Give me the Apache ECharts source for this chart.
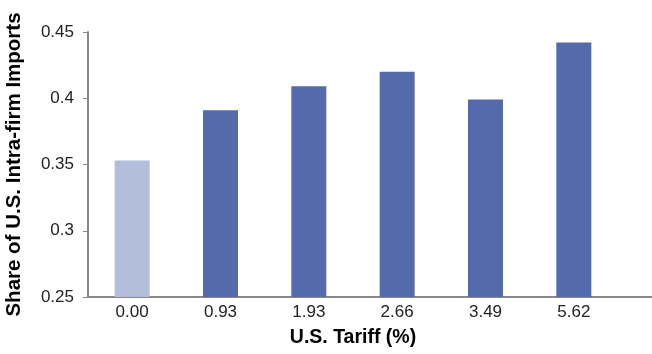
<!DOCTYPE html>
<html>
<head>
<meta charset="utf-8">
<script src="https://cdn.jsdelivr.net/npm/echarts@6/dist/echarts.min.js"></script>
<style>
  html, body { margin: 0; padding: 0; background: #fff; }
  #chart { width: 652px; height: 354px; }
</style>
</head>
<body>
<div id="chart"></div>
<script>
const tariffs = ['0.00', '0.93', '1.93', '2.66', '3.49', '5.62'];
const shares = [0.353, 0.391, 0.409, 0.420, 0.399, 0.442];
const yTicks = [0.25, 0.3, 0.35, 0.4, 0.45];

const chart = echarts.init(document.getElementById('chart'));

const barData = shares.map((v, i) => ({
    value: v,
    itemStyle: { color: i === 0 ? '#b3bedd' : '#546bab' }
}));

chart.setOption({
    animation: false,
    textStyle: { fontFamily: 'Liberation Sans, Arial, sans-serif' },
    grid: { left: 88, right: 34, top: 32, bottom: 57, containLabel: false, outerBoundsMode: 'none' },
    xAxis: {
        type: 'category',
        data: tariffs,
        name: 'U.S. Tariff (%)',
        nameLocation: 'middle',
        nameGap: 31,
        nameTextStyle: { fontSize: 19.5, fontWeight: 'bold', color: '#000' },
        axisLine: { lineStyle: { color: '#888', width: 2 } },
        axisTick: { show: false },
        axisLabel: { fontSize: 17, color: '#222', margin: 7 }
    },
    yAxis: {
        type: 'value',
        min: yTicks[0],
        max: yTicks[yTicks.length - 1],
        interval: 0.05,
        name: 'Share of U.S. Intra-firm Imports',
        nameLocation: 'middle',
        nameGap: 63,
        nameTextStyle: { fontSize: 20.5, fontWeight: 'bold', color: '#000' },
        axisLine: { show: true, lineStyle: { color: '#888', width: 2 } },
        axisTick: { show: true, length: 5, lineStyle: { color: '#888' } },
        splitLine: { show: false },
        axisLabel: {
            fontSize: 17, color: '#222', margin: 14,
            formatter: v => String(+v.toFixed(2))
        }
    },
    series: [{
        type: 'bar',
        data: barData,
        barWidth: 35
    }],
    graphic: [{
        type: 'line',
        shape: { x1: 618, y1: 297, x2: 652, y2: 297 },
        style: { stroke: '#888', lineWidth: 2 }
    }]
});
</script>
</body>
</html>
